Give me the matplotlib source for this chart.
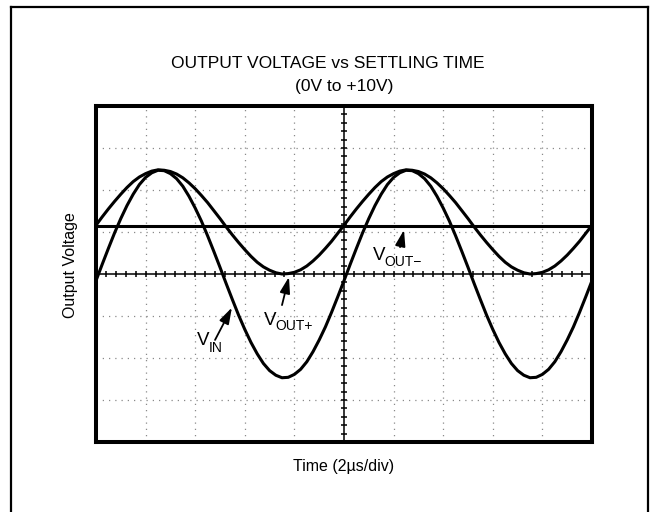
import numpy as np
import matplotlib
matplotlib.use("Agg")
import matplotlib.pyplot as plt
from matplotlib.lines import Line2D

plt.rcParams['font.family'] = ['Liberation Sans', 'DejaVu Sans']

# time in divisions (2us/div), voltages in divisions from the centre line
time_div = [0.0, 0.125, 0.25, 0.375, 0.5, 0.625, 0.75, 0.875, 1.0, 1.125,
            1.25, 1.375, 1.5, 1.625, 1.75, 1.875, 2.0, 2.125, 2.25, 2.375,
            2.5, 2.625, 2.75, 2.875, 3.0, 3.125, 3.25, 3.375, 3.5, 3.625,
            3.75, 3.875, 4.0, 4.125, 4.25, 4.375, 4.5, 4.625, 4.75, 4.875,
            5.0, 5.125, 5.25, 5.375, 5.5, 5.625, 5.75, 5.875, 6.0, 6.125,
            6.25, 6.375, 6.5, 6.625, 6.75, 6.875, 7.0, 7.125, 7.25, 7.375,
            7.5, 7.625, 7.75, 7.875, 8.0, 8.125, 8.25, 8.375, 8.5, 8.625,
            8.75, 8.875, 9.0, 9.125, 9.25, 9.375, 9.5, 9.625, 9.75, 9.875, 10.0]
# one 10us cycle; the trace repeats it twice
v_in_cycle = [-0.16, 0.23, 0.61, 0.98, 1.32, 1.63, 1.90, 2.13, 2.30, 2.41,
              2.47, 2.46, 2.39, 2.27, 2.09, 1.85, 1.57, 1.26, 0.91, 0.54,
              0.16, -0.23, -0.61, -0.98, -1.32, -1.63, -1.90, -2.13, -2.30, -2.41,
              -2.47, -2.46, -2.39, -2.27, -2.09, -1.85, -1.57, -1.26, -0.91, -0.54, -0.16]
v_out_plus_cycle = [1.16, 1.36, 1.55, 1.73, 1.90, 2.06, 2.20, 2.31, 2.39, 2.45,
                    2.48, 2.47, 2.44, 2.38, 2.29, 2.17, 2.03, 1.87, 1.70, 1.51,
                    1.32, 1.12, 0.93, 0.75, 0.58, 0.42, 0.28, 0.17, 0.09, 0.03,
                    0.00, 0.01, 0.04, 0.10, 0.19, 0.31, 0.45, 0.61, 0.78, 0.97, 1.16]
v_in = v_in_cycle + v_in_cycle[1:]
v_out_plus = v_out_plus_cycle + v_out_plus_cycle[1:]
v_out_minus = 1.14

W, H = 651, 512
fig = plt.figure(figsize=(W / 100, H / 100), dpi=100)

# outer frame (open at the bottom)
fx0, fx1, fy = 11 / W, 648 / W, 1 - 7 / H
for xs, ys in [([fx0, fx0], [0, fy]), ([fx0, fx1], [fy, fy]), ([fx1, fx1], [fy, 0])]:
    fig.add_artist(Line2D(xs, ys, transform=fig.transFigure, color='black', lw=1.6))

ax = fig.add_axes([96 / W, 1 - 442 / H, 496 / W, 336 / H])
ax.set_xlim(0, 10)
ax.set_ylim(-4, 4)
ax.set_xticks([])
ax.set_yticks([])
for s in ax.spines.values():
    s.set_linewidth(2.9)
    s.set_color('black')

# dotted graticule
for gx in [1, 2, 3, 4, 6, 7, 8, 9]:
    ax.axvline(gx, color='#8a8a8a', lw=0.9, ls=(0, (1, 4)), zorder=1)
for gy in [-3, -2, -1, 1, 2, 3]:
    ax.axhline(gy, color='#8a8a8a', lw=0.9, ls=(0, (1, 4)), zorder=1)

# centre cross with minor ticks
ax.axhline(0, color='black', lw=1.1, zorder=2)
ax.axvline(5, color='black', lw=1.1, zorder=2)
tx = np.arange(0.2, 10, 0.2)
ax.plot(tx, np.zeros_like(tx), ls='none', marker='|', ms=5, mew=1.1, color='black', zorder=2)
ty = np.arange(-3.8, 4, 0.2)
ax.plot(np.full_like(ty, 5), ty, ls='none', marker='_', ms=5, mew=1.1, color='black', zorder=2)

# traces
ax.axhline(v_out_minus, color='black', lw=2.2, zorder=3)
ax.plot(time_div, v_out_plus, color='black', lw=2.2, zorder=3)
ax.plot(time_div, v_in, color='black', lw=2.2, zorder=3)

# labels with arrows
aprops = dict(arrowstyle='-|>,head_length=0.7,head_width=0.22', color='black',
              lw=1.3, shrinkA=0, shrinkB=0, mutation_scale=14)
ax.annotate('', xy=(2.74, -0.80), xytext=(2.40, -1.57), arrowprops=aprops)
ax.annotate('', xy=(3.89, -0.07), xytext=(3.75, -0.74), arrowprops=aprops)
ax.annotate('', xy=(6.21, 1.05), xytext=(6.13, 0.64), arrowprops=aprops)

labels = [((2.04, -1.69), (2.27, -1.86), 'IN'),
          ((3.39, -1.21), (3.62, -1.33), 'OUT+'),
          ((5.58, 0.33), (5.81, 0.19), 'OUT\u2212')]
for (vx, vy), (sx, sy), sub in labels:
    ax.text(vx, vy, 'V', fontsize=13.5, ha='left', va='baseline')
    ax.text(sx, sy, sub, fontsize=10, ha='left', va='baseline')

fig.text(328 / W, 1 - 63 / H, 'OUTPUT VOLTAGE vs SETTLING TIME', ha='center', va='center', fontsize=12.5)
fig.text(344 / W, 1 - 87 / H, '(0V to +10V)', ha='center', va='center', fontsize=12.5)
fig.text(70 / W, 1 - 265 / H, 'Output Voltage', ha='center', va='center', rotation=90, fontsize=11.5)
fig.text(344 / W, 1 - 466 / H, 'Time (2µs/div)', ha='center', va='center', fontsize=11.5)

fig.savefig('out.png', dpi=100)
